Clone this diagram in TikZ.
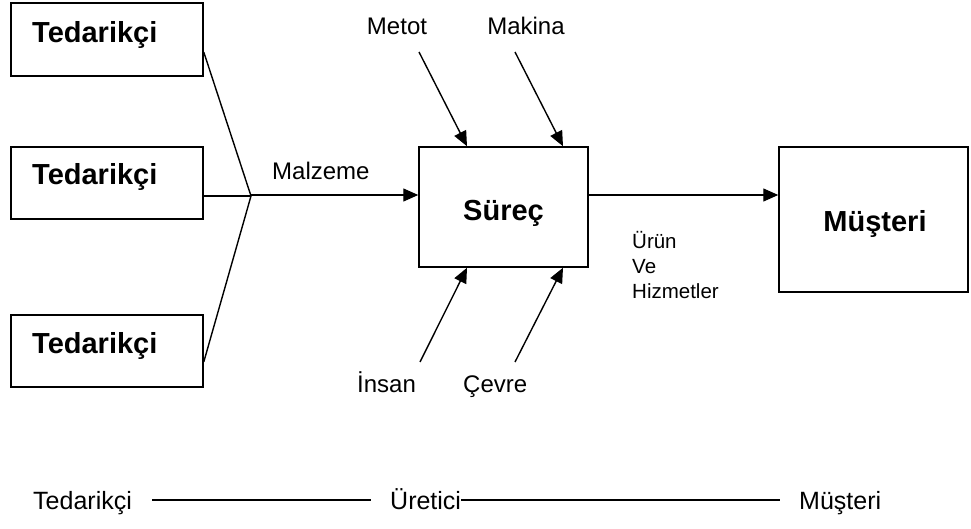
\documentclass[tikz,border=0pt]{standalone}
\usepackage{fontspec}
\setmainfont{Liberation Sans}
\usetikzlibrary{arrows.meta,calc}
\tikzset{
  box/.style={draw, line width=1.5pt, rectangle, inner sep=0pt, minimum width=#1},
  boxlbl/.style={font=\fontsize{29}{34}\selectfont\bfseries, inner sep=0pt},
  lbl/.style={font=\fontsize{24}{28}\selectfont, inner sep=0pt},
  botlbl/.style={font=\fontsize{25}{30}\selectfont, inner sep=0pt, anchor=base west},
  conn/.style={line width=1.4pt},
  arr/.style={line width=1.4pt, -{Triangle[length=15pt,width=13pt]}},
}
\begin{document}
\begin{tikzpicture}[x=1pt,y=-1pt]
\useasboundingbox (0,0) rectangle (971,529);

% supplier boxes
\node[box=192pt, minimum height=73pt] (t1) at (107,39.5) {};
\node[box=192pt, minimum height=72pt] (t2) at (107,183) {};
\node[box=192pt, minimum height=72pt] (t3) at (107,351) {};
\node[boxlbl, anchor=base west] (t1l) at (32,43) {Tedarikçi};
\node[boxlbl, anchor=base west] (t2l) at (32,185) {Tedarikçi};
\node[boxlbl, anchor=base west] (t3l) at (32,353) {Tedarikçi};

% process and customer boxes
\node[box=169pt, minimum height=120pt] (sur) at (503.5,207) {};
\node[boxlbl, anchor=base] (surl) at (503.5,221) {Süreç};
\node[box=189pt, minimum height=145pt] (must) at (873.5,219.5) {};
\node[boxlbl, anchor=base] (mustl) at (875,232) {Müşteri};

% supplier lines meeting at the junction
\coordinate (J) at (251,196);
\draw[conn] ([yshift=-12.5pt]t1.east) -- (J);
\draw[conn] ([yshift=-13pt]t2.east) -- (J);
\draw[conn] ([yshift=-11pt]t3.east) -- (J);

% material into the process
\coordinate (m) at ([yshift=12pt]sur.west);
\draw[arr] (J) -- (J |- m) -- (m);
\node[lbl, anchor=base west] (malz) at (272,180) {Malzeme};

% output to the customer
\coordinate (o1) at ([yshift=12pt]sur.east);
\draw[arr] (o1) -- (o1 -| must.west);
\node[font=\fontsize{20.5}{24.5}\selectfont, inner sep=0pt, align=left, anchor=base west] (urun) at (632,298) {Ürün\\Ve\\Hizmetler};

% inputs from above
\node[lbl, anchor=base] (metot) at (397,35) {Metot};
\node[lbl, anchor=base] (mak) at (526,35) {Makina};
\coordinate (metT) at (419,52);
\coordinate (makT) at (515,52);
\draw[arr] (metT) -- ([xshift=-36.5pt]sur.north);
\draw[arr] (makT) -- ([xshift=59.5pt]sur.north);

% inputs from below
\node[lbl, anchor=base west] (insan) at (357,392) {İnsan};
\node[lbl, anchor=base west] (cevre) at (463,392) {Çevre};
\coordinate (insT) at (420,362);
\coordinate (cevT) at (515,362);
\draw[arr] (insT) -- ([xshift=-36.5pt]sur.south);
\draw[arr] (cevT) -- ([xshift=59.5pt]sur.south);

% supply chain line
\node[botlbl] (b1) at (33,509) {Tedarikçi};
\node[botlbl] (b2) at (390,509) {Üretici};
\node[botlbl] (b3) at (799,509) {Müşteri};
\draw[conn] ($(b1.base east)+(20,-9)$) -- ($(b2.base west)+(-19,-9)$);
\draw[conn] ($(b2.base east)+(0,-9)$) -- ($(b3.base west)+(-19,-9)$);
\end{tikzpicture}
\end{document}
